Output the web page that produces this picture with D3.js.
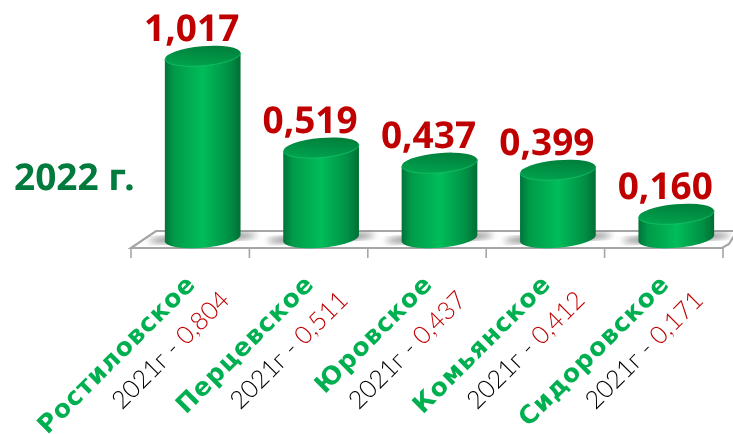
<!DOCTYPE html>
<html lang="en">
<head>
<meta charset="UTF-8">
<title>2022 г.</title>
<style>
    html, body { margin: 0; padding: 0; background: #fff; overflow: hidden; }
    text { text-rendering: geometricPrecision; opacity: 0.999; }
    .val { font-family: "Noto Sans", sans-serif; font-weight: 700; font-size: 37px; fill: #c00000; }
    .name { font-family: "DejaVu Sans", sans-serif; font-weight: 700; font-size: 25px; fill: #00b050; letter-spacing: 1px; }
    .prev { font-family: "Lato", sans-serif; font-weight: 300; font-size: 25px; fill: #000; }
</style>
<script src="https://d3js.org/d3.v7.min.js"></script>
</head>
<body>
<div id="chart"></div>
<script>
    const categories = ["Ростиловское", "Перцевское", "Юровское", "Комьянское", "Сидоровское"];
    const values2022 = [1.017, 0.519, 0.437, 0.399, 0.160];
    const labels2022 = ["1,017", "0,519", "0,437", "0,399", "0,160"];
    const labels2021 = ["0,804", "0,511", "0,437", "0,412", "0,171"];

    const width = 733, height = 434;
    const svg = d3.select("#chart").append("svg")
        .attr("width", width).attr("height", height).style("display", "block");

    const x = d3.scaleBand().domain(categories).range([131, 723]);
    const y = d3.scaleLinear().domain([0, 1.017]).range([243.5, 56]);

    // 3d look: bars sit back from the front edge of the floor
    const depth = 12.5, rx = 38, ry = 9.8, tilt = 5 * Math.PI / 180;
    const baseY = 238;

    // near half of a tilted ellipse, left to right
    const halfEllipse = (c, m) => d3.range(0, 25).map(k => {
        const t = Math.PI - k * Math.PI / 24;
        const lx = rx * Math.cos(t), ly = ry * Math.sin(t);
        return [c + lx * Math.cos(tilt) + ly * Math.sin(tilt), m - lx * Math.sin(tilt) + ly * Math.cos(tilt)];
    });
    const line = d3.line();

    const defs = svg.append("defs");
    const body = defs.append("linearGradient").attr("id", "body");
    [[0, "#00733a"], [0.12, "#009a48"], [0.5, "#00bd5a"], [0.85, "#009045"], [1, "#006f35"]].forEach(d =>
        body.append("stop").attr("offset", d[0]).attr("stop-color", d[1]));
    const cap = defs.append("linearGradient").attr("id", "cap")
        .attr("x1", 0.1).attr("y1", 1).attr("x2", 0.75).attr("y2", 0);
    [[0, "#00a851"], [0.55, "#009044"], [1, "#007d39"]].forEach(d =>
        cap.append("stop").attr("offset", d[0]).attr("stop-color", d[1]));
    defs.append("filter").attr("id", "blur").append("feGaussianBlur").attr("stdDeviation", 3);

    // floor
    const x0 = x.range()[0], x1 = x.range()[1];
    svg.append("path")
        .attr("d", `M${x0},248 L${x0 + 25},231 L${width + 4},231 L${x1 + 6},244 L${x1 - 1},248 Z`)
        .attr("fill", "#fff").attr("stroke", "#a6a6a6").attr("stroke-width", 2.2);

    const ticks = categories.map(c => x(c)).concat(x1);
    svg.selectAll(".tick-line").data(ticks).join("line")
        .attr("x1", d => d).attr("x2", d => d).attr("y1", 248).attr("y2", 258)
        .attr("stroke", "#a6a6a6").attr("stroke-width", 1.6);

    const cx = c => x(c) + x.bandwidth() / 2 + depth;

    // shadows on the floor
    svg.selectAll(".shadow").data(categories).join("ellipse")
        .attr("cx", d => cx(d)).attr("cy", 238).attr("rx", 54).attr("ry", 4)
        .attr("transform", d => `rotate(-3 ${cx(d)} 238)`)
        .attr("fill", "#808080").attr("filter", "url(#blur)");

    // bars
    const bars = svg.selectAll(".bar").data(categories).join("g").attr("class", "bar");
    bars.append("path")
        .attr("d", (d, i) => {
            const top = halfEllipse(cx(d), y(values2022[i]));
            const bottom = halfEllipse(cx(d), baseY);
            return line([top[0]].concat(bottom, [top[top.length - 1]])) + "Z";
        })
        .attr("fill", "url(#body)");
    bars.append("ellipse")
        .attr("cx", d => cx(d)).attr("cy", (d, i) => y(values2022[i]))
        .attr("rx", rx).attr("ry", ry)
        .attr("transform", (d, i) => `rotate(-5 ${cx(d)} ${y(values2022[i])})`)
        .attr("fill", "url(#cap)");
    // light rim on the near edge of the cap
    bars.append("path")
        .attr("d", (d, i) => line(halfEllipse(cx(d), y(values2022[i]))))
        .attr("fill", "none").attr("stroke", "#19c46b").attr("stroke-width", 1).attr("stroke-opacity", 0.75);

    // value labels
    svg.selectAll(".val").data(categories).join("text")
        .attr("class", "val")
        .attr("x", d => cx(d) - 11)
        .attr("y", (d, i) => y(values2022[i]) - 15)
        .attr("text-anchor", "middle")
        .text((d, i) => labels2022[i]);

    svg.append("text")
        .attr("x", 14).attr("y", 190)
        .attr("font-size", 37).attr("font-weight", 700).attr("fill", "#007a3d")
        .style("font-family", "'Noto Sans', sans-serif")
        .text("2022 г.");

    // rotated category labels
    svg.selectAll(".name").data(categories).join("text")
        .attr("class", "name")
        .attr("text-anchor", "end")
        .attr("transform", d => `translate(${cx(d) - 18},${273}) rotate(-45)`)
        .attr("dy", "0.7em")
        .text(d => d);

    const prev = svg.selectAll(".prev").data(categories).join("text")
        .attr("class", "prev")
        .attr("text-anchor", "end")
        .attr("transform", d => `translate(${cx(d) + 16},${289}) rotate(-45)`)
        .attr("dy", "0.7em");
    prev.append("tspan").text("2021г - ");
    prev.append("tspan").attr("fill", "#c00000").text((d, i) => labels2021[i]);
</script>
</body>
</html>
